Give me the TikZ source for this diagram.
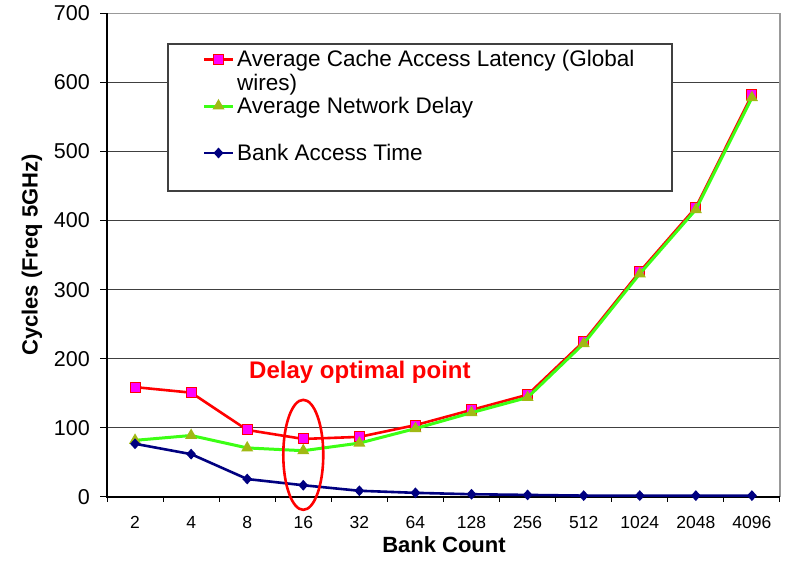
\documentclass[tikz,border=0pt]{standalone}
\usepackage{fontspec}
\setmainfont{Liberation Sans}
\usepackage{tikz}
\usetikzlibrary{calc, shapes.geometric}

\definecolor{latred}{RGB}{255,0,0}
\definecolor{latpink}{RGB}{255,0,255}
\definecolor{netgreen}{RGB}{60,255,20}
\definecolor{netolive}{RGB}{160,185,20}
\definecolor{banknavy}{RGB}{0,0,128}

\begin{document}
\begin{tikzpicture}[x=1pt, y=1pt,
  gridline/.style={black!75, line width=1pt},
  frameline/.style={black!40, line width=1.2pt},
  redline/.style={latred, line width=2.6pt},
  greenline/.style={netgreen, line width=3pt},
  blueline/.style={banknavy, line width=2.6pt},
  sqmark/.style={rectangle, draw=latred, fill=latpink, line width=1pt, minimum size=10pt, inner sep=0pt},
  trimark/.style={regular polygon, regular polygon sides=3, fill=netolive, minimum size=14pt, inner sep=0pt},
  dimark/.style={diamond, fill=banknavy, minimum width=10pt, minimum height=11pt, inner sep=0pt},
  ticklabel/.style={font=\fontsize{17.5}{20}\selectfont, inner sep=0pt},
  legtext/.style={font=\fontsize{22.5}{23.5}\selectfont, inner sep=0pt, align=left}
]
\useasboundingbox (0,0) rectangle (785,561);

% Data (cycles) for bank counts 2 ... 4096
\def\latData{159,151,97,84,87,104,126,148,225,326,419,582}
\def\netData{82,89,71,67,78,99,122,144,222,323,416,578}
\def\bankData{77,62,26,17,9,6,4,3,2,2,2,2}

\begin{scope}[shift={(107pt,64pt)}, x=56.08pt, y=0.691pt]
% Grid and frame
\foreach \v in {100,200,...,600}
  \draw[gridline] (0,\v) -- (12,\v);
\draw[frameline] (0,700) -- (12,700) -- (12,0);

% Draw axes
\draw[black, line width=1.3pt] (0,700) -- (0,0) -- (12,0);
\foreach \v in {0,100,...,700} {
  \draw[black, line width=1pt] ([xshift=-7pt]0,\v) -- (0,\v);
  \node[font=\fontsize{21.5}{24}\selectfont, inner sep=0pt, anchor=east] (ylab\v) at ([xshift=-17pt]0,\v) {\v};
}
\foreach \i in {0,...,12}
  \draw[black, line width=1pt] (\i,0) -- ([yshift=-5pt]\i,0);
\foreach \n [count=\i] in {2,4,8,16,32,64,128,256,512,1024,2048,4096}
  \node[ticklabel, anchor=base] (xlab\i) at ([yshift=-32pt]\i-0.5,0) {\n};

% Average cache access latency
\foreach \y [count=\i] in \latData
  \coordinate (r\i) at (\i-0.5,\y);
\draw[redline] (r1) \foreach \i in {2,...,12}{ -- (r\i)};
\foreach \i in {1,...,12}
  \node[sqmark] (rm\i) at (r\i) {};

% Average network delay
\foreach \y [count=\i] in \netData
  \coordinate (g\i) at (\i-0.5,\y);
\draw[greenline] (g1) \foreach \i in {2,...,12}{ -- (g\i)};
\foreach \i in {1,...,12}
  \node[trimark] (gm\i) at (g\i) {};

% Bank access time
\foreach \y [count=\i] in \bankData
  \coordinate (b\i) at (\i-0.5,\y);
\draw[blueline] (b1) \foreach \i in {2,...,12}{ -- (b\i)};
\foreach \i in {1,...,12}
  \node[dimark] (bm\i) at (b\i) {};

% Optimal point
\draw[latred, line width=2.6pt] (3.5,61) ellipse [x radius=20pt, y radius=55pt];
\node[latred, font=\bfseries\fontsize{24}{26}\selectfont, inner sep=0pt] (optlab) at (4.51,181) {Delay optimal point};
\end{scope}

% Axis titles
\node[font=\bfseries\fontsize{22}{24}\selectfont, inner sep=0pt, anchor=base] (xtitle) at (444,8) {Bank Count};
\node[font=\bfseries\fontsize{22}{24}\selectfont, inner sep=0pt, rotate=90] (ytitle) at (32,306) {Cycles (Freq 5GHz)};

% Legend
\draw[black!75, fill=white, line width=1.2pt] (168,370) rectangle (672,517);
\draw[redline] (204,501.7) -- (233,501.7);
\node[sqmark] (legr) at (218.5,501.7) {};
\node[legtext, anchor=base west] (legcache) at (237,470.5) {Average Cache Access Latency (Global\\wires)};
\draw[greenline] (204,454) -- (233,454);
\node[trimark] (legg) at (218.5,455) {};
\node[legtext, anchor=base west] (legnet) at (237,447) {Average Network Delay};
\draw[blueline] (204,408) -- (233,408);
\node[dimark] (legb) at (218.5,408) {};
\node[legtext, anchor=base west] (legbank) at (237,400) {Bank Access Time};
\end{tikzpicture}
\end{document}
